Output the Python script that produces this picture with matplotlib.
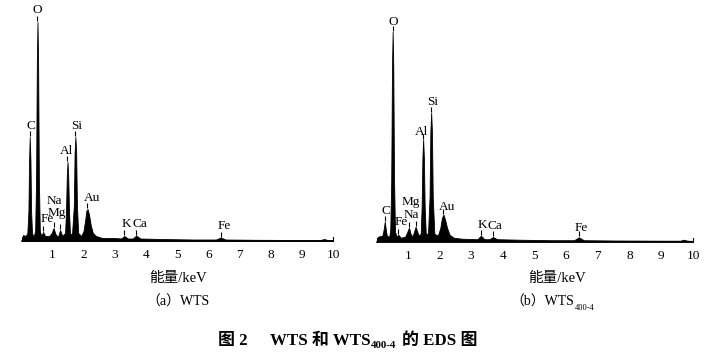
import matplotlib
matplotlib.use('Agg')
import matplotlib.pyplot as plt

W, H = 717, 354
plt.rcParams['font.family'] = ['Liberation Serif', 'Noto Sans CJK SC', 'DejaVu Sans']

# ---------------- data ----------------
energy_a = [0.03, 0.06, 0.15, 0.20, 0.235, 0.255, 0.277, 0.30, 0.32, 0.35, 0.40,
            0.45, 0.48, 0.505, 0.525, 0.545, 0.57, 0.60, 0.65, 0.705, 0.77, 0.90,
            0.98, 1.04, 1.10, 1.18, 1.25, 1.32, 1.41, 1.44, 1.465, 1.487, 1.51,
            1.535, 1.565, 1.63, 1.69, 1.715, 1.74, 1.765, 1.79, 1.83, 1.93, 2.00,
            2.05, 2.09, 2.13, 2.18, 2.23, 2.30, 2.40, 2.60, 3.00, 3.20, 3.31, 3.42,
            3.58, 3.69, 3.82, 4.50, 5.50, 6.25, 6.40, 6.55, 7.50, 9.00, 9.60, 9.71,
            9.82, 10.0]
counts_a = [0, 6, 5, 8, 30, 80, 104, 80, 30, 8, 4,
            10, 60, 180, 219, 180, 60, 10, 5, 9, 5, 5,
            8, 13, 7, 4, 11, 5, 8, 30, 65, 79, 65,
            30, 8, 6, 35, 88, 104, 88, 35, 8, 5, 10,
            20, 30, 32, 26, 16, 8, 5, 3, 3, 2.5, 5, 2.5,
            2.5, 5.5, 2.5, 2, 1.5, 1.5, 3.5, 1.5, 1.2, 1, 1, 2,
            1, 0.8]

energy_b = [0.03, 0.06, 0.20, 0.24, 0.277, 0.31, 0.34, 0.42, 0.45, 0.48, 0.505,
            0.525, 0.545, 0.57, 0.60, 0.65, 0.705, 0.78, 0.92, 0.99, 1.04, 1.09,
            1.15, 1.20, 1.25, 1.30, 1.35, 1.41, 1.44, 1.465, 1.487, 1.51, 1.535,
            1.57, 1.64, 1.69, 1.715, 1.74, 1.765, 1.79, 1.84, 1.95, 2.03, 2.08,
            2.13, 2.18, 2.24, 2.32, 2.45, 2.70, 3.20, 3.31, 3.42, 3.58, 3.69, 3.82,
            4.50, 5.50, 6.25, 6.40, 6.55, 7.50, 9.00, 9.60, 9.71, 9.82, 10.0]
counts_b = [0, 5, 6, 12, 20, 12, 6, 5, 12, 60, 175,
            210, 175, 60, 10, 5, 7, 4, 5, 10, 14, 8,
            5, 10, 15, 10, 6, 8, 35, 85, 102, 85, 35,
            8, 8, 45, 110, 129, 110, 45, 8, 6, 14, 24,
            27, 22, 14, 7, 4, 3, 2.5, 6, 2.5, 2.5, 4.7, 2.5,
            2, 1.5, 1.5, 4.4, 1.5, 1.2, 1, 1, 2, 1, 0.8]

elements = ['C', 'O', 'Fe', 'Na', 'Mg', 'Al', 'Si', 'Au', 'K', 'Ca', 'Fe']
peak_kev = [0.277, 0.525, 0.705, 1.04, 1.25, 1.487, 1.74, 2.12, 3.31, 3.69, 6.40]
peak_a = [104, 219, 9, 13, 11, 79, 104, 32, 5, 5.5, 3.5]
peak_b = [20, 210, 7, 14, 15, 102, 129, 27, 6, 4.7, 4.4]

label_kev_a = [0.32, 0.51, 0.83, 1.05, 1.15, 1.47, 1.79, 2.27, 3.38, 3.81, 6.50]
label_h_a = [115, 231, 22, 40, 28, 90, 115, 43, 17, 17, 15]
label_kev_b = [0.32, 0.55, 0.81, 1.13, 1.09, 1.44, 1.79, 2.25, 3.35, 3.75, 6.49]
label_h_b = [31, 220, 20, 27, 40, 110, 140, 35, 17, 16, 14]

xticks = [1, 2, 3, 4, 5, 6, 7, 8, 9, 10]
xlabel = '能量/keV'

fig = plt.figure(figsize=(W / 100, H / 100), dpi=100)


def make_axes(x0px, x10px, base_px, energy, counts, peaks, lab_kev, lab_h):
    left = x0px / W
    width = (x10px - x0px) / W
    bottom = (H - base_px) / H
    height = base_px / H
    ax = fig.add_axes([left, bottom, width, height])
    ax.set_xlim(0, 10)
    ax.set_ylim(0, base_px)
    ax.fill_between(energy, counts, 0, color='black', lw=0.6)
    ax.vlines(peak_kev, [p + 1 for p in peaks], [p + 6 for p in peaks],
              color='black', lw=0.8)
    for el, lx, ly in zip(elements, lab_kev, lab_h):
        ax.text(lx, ly, el, ha='center', va='center', fontsize=9.5)
    ax.spines['top'].set_visible(False)
    ax.spines['bottom'].set_bounds(0.04, 10)
    ax.spines['bottom'].set_linewidth(1.1)
    ax.spines['right'].set_bounds(0, 4)
    ax.spines['left'].set_bounds(0, 4)
    ax.spines['left'].set_position(('data', 0.04))
    ax.set_xticks(xticks)
    ax.set_xticklabels([str(t) for t in xticks], fontsize=9.6)
    ax.tick_params(axis='x', length=0, pad=6)
    ax.set_yticks([])
    ax.patch.set_alpha(0)
    return ax


ax_a = make_axes(21.1, 333.1, 241, energy_a, counts_a, peak_a, label_kev_a, label_h_a)
ax_b = make_axes(376.0, 693.0, 241.7, energy_b, counts_b, peak_b, label_kev_b, label_h_b)

renderer = fig.canvas.get_renderer()


def ftext(xpx, ypx, s, **kw):
    return fig.text(xpx / W, 1 - ypx / H, s, **kw)


def width_px(t):
    return t.get_window_extent(renderer).width


# axis labels
ftext(178, 278, xlabel, ha='center', va='center', fontsize=10.5)
ftext(557, 278, xlabel, ha='center', va='center', fontsize=10.5)

# captions
ftext(146, 306, '（a）WTS', ha='left', va='baseline', fontsize=10)
t = ftext(510, 306, '（b）WTS', ha='left', va='baseline', fontsize=10)
ftext(510 + width_px(t) + 0.5, 310, '400-4', ha='left', va='baseline', fontsize=6)

# figure title (built from pieces on one baseline)
tkw = dict(ha='left', va='baseline', fontweight='bold')
ftext(218, 345, '图 2', fontsize=12.2, **tkw)
p2 = ftext(270, 345, 'WTS 和 WTS', fontsize=12.2, **tkw)
x3 = 270 + width_px(p2) + 0.5
p3 = ftext(x3, 348, '400-4', fontsize=7.8, **tkw)
x4 = x3 + width_px(p3) + 5
ftext(x4, 345, '的 EDS 图', fontsize=12.2, **tkw)

fig.savefig('out.png', dpi=100)
